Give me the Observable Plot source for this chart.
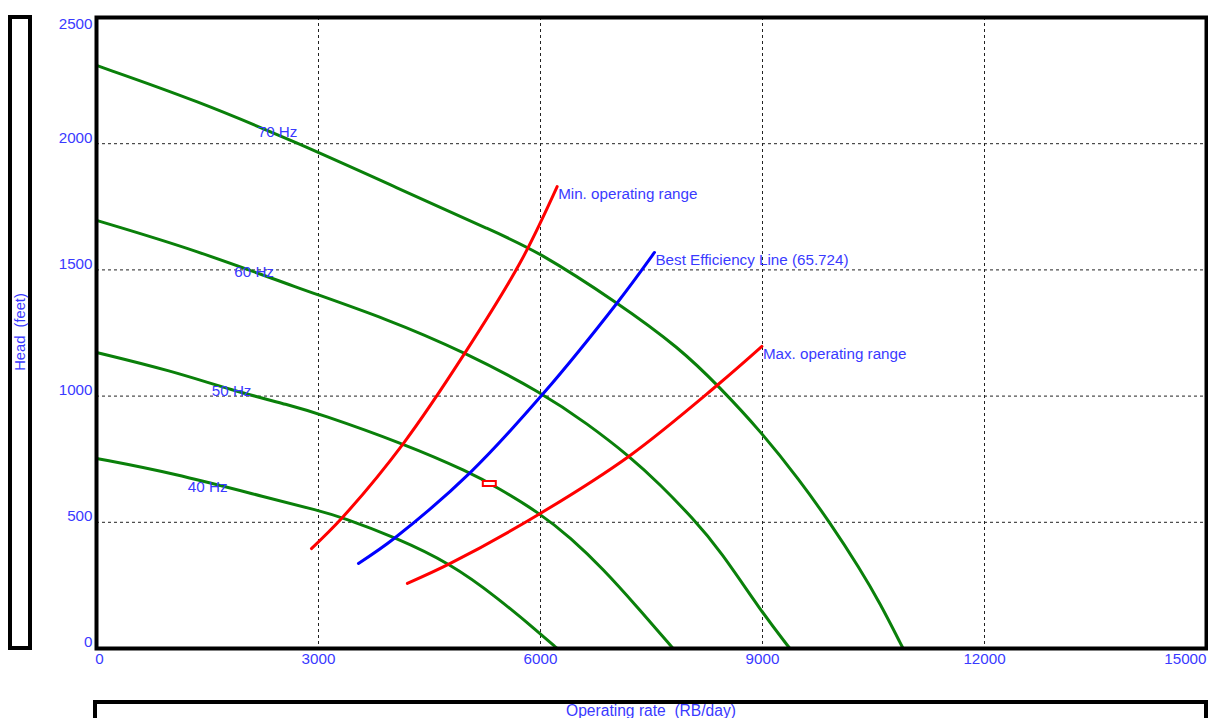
<!DOCTYPE html>
<html>
<head>
<meta charset="utf-8">
<script src="https://cdn.jsdelivr.net/npm/d3@7"></script>
<script src="https://cdn.jsdelivr.net/npm/@observablehq/plot@0.6"></script>
<style>
  html, body { margin: 0; padding: 0; background: #fff; overflow: hidden; }
  #wrap { position: relative; width: 1208px; height: 718px; font-family: "Liberation Sans", Arial, sans-serif; }
  #chart svg { display: block; }
  .box { position: absolute; border: 4px solid #000; box-sizing: border-box; background: transparent; }
  .lbl { position: absolute; color: #3a3aff; font-size: 14.7px; white-space: pre; line-height: 16px; }
</style>
</head>
<body>
<div id="wrap">
  <div id="chart"></div>
  <div class="box" style="left:8px; top:15px; width:24px; height:635px;"></div>
  <div class="lbl" style="left:20px; top:332px; transform: translate(-50%,-50%) rotate(-90deg);">Head  (feet)</div>
  <div class="box" style="left:93px; top:700px; width:1115px; height:40px;"></div>
  <div class="lbl" style="left:651px; top:703px; font-size:15.6px; transform: translateX(-50%);">Operating rate  (RB/day)</div>
</div>
<script>
// Frequency curves: [rate (RB/day), head (feet)]
const hz70 = [[0,2310],[1354,2171],[2703,2005],[4053,1826],[5402,1648],[5942,1577],[7040,1371],[7886,1189],[8425,1034],[8965,864],[9505,666],[9910,499],[10314,317],[10584,182],[10900,0]];
const hz60 = [[0,1696],[1354,1577],[2703,1430],[3918,1307],[4984,1173],[6037,1010],[6631,891],[7211,760],[7616,650],[8061,515],[8425,390],[8992,143],[9370,0]];
const hz50 = [[0,1173],[1005,1101],[1842,1022],[2621,963],[2999,931],[4146,812],[5050,697],[5415,638],[5996,535],[6401,440],[6847,315],[7306,165],[7792,0]];
const hz40 = [[0,753],[1005,697],[2353,594],[2999,547],[3323,519],[4039,440],[4781,337],[5415,202],[5996,59],[6225,0]];
const minRange = [[2905,396],[3323,519],[4146,812],[4984,1173],[5726,1529],[6225,1830]];
const bestEff = [[3540,337],[4039,440],[5050,697],[6037,1010],[7040,1371],[7540,1569]];
const maxRange = [[4201,258],[4781,337],[5996,535],[7211,765],[8384,1042],[8992,1197]];
const operatingPoint = [[5308,654]];

const hzLabels = [
  {text: "70 Hz", x: 2447, y: 2046},
  {text: "60 Hz", x: 2130, y: 1492},
  {text: "50 Hz", x: 1826, y: 1020},
  {text: "40 Hz", x: 1502, y: 638}
];
const lineLabels = ["Min. operating range", "Best Efficiency Line (65.724)", "Max. operating range"];

const xTicks = [0, 3000, 6000, 9000, 12000, 15000];
const yTicks = [0, 500, 1000, 1500, 2000, 2500];

const textBlue = "#3a3aff";
const green = "#0a800a";
const fs = 15.2;

const hzCurves = [hz70, hz60, hz50, hz40];
const rangeLines = [
  {pts: minRange, color: "#ff0000", label: lineLabels[0]},
  {pts: bestEff, color: "#0000ff", label: lineLabels[1]},
  {pts: maxRange, color: "#ff0000", label: lineLabels[2]}
];

const rectSymbol = { draw(ctx) { ctx.rect(-6.5, -2.5, 13, 5); } };
const fmt = d => String(d);

const marks = [
  Plot.gridX(xTicks.slice(1, 5), {stroke: "#222", strokeOpacity: 1, strokeWidth: 1, strokeDasharray: "3,3"}),
  Plot.gridY(yTicks.slice(1, 5), {stroke: "#222", strokeOpacity: 1, strokeWidth: 1, strokeDasharray: "3,3"}),
  ...hzCurves.map(c => Plot.line(c, {x: d => d[0], y: d => d[1], stroke: green, strokeWidth: 3, curve: "basis"})),
  Plot.text(hzLabels, {x: "x", y: "y", text: "text", fill: textBlue, fontSize: fs, textAnchor: "middle"}),
  ...rangeLines.map(r => Plot.line(r.pts, {x: d => d[0], y: d => d[1], stroke: r.color, strokeWidth: 3, curve: "catmull-rom"})),
  ...rangeLines.map(r => Plot.text([r.pts[r.pts.length - 1]], {x: d => d[0], y: d => d[1], text: () => r.label, fill: textBlue, fontSize: fs, textAnchor: "start", dx: 1, dy: 8})),
  Plot.dot(operatingPoint, {x: d => d[0], y: d => d[1], symbol: rectSymbol, stroke: "#ff0000", strokeWidth: 2, fill: "#fff", r: 4}),
  Plot.frame({stroke: "#000", strokeWidth: 4}),
  Plot.axisX([0], {tickSize: 0, tickPadding: 5, fill: textBlue, fontSize: fs, dx: 3, label: null, tickFormat: fmt}),
  Plot.axisX(xTicks.slice(1, 5), {tickSize: 0, tickPadding: 5, fill: textBlue, fontSize: fs, label: null, tickFormat: fmt}),
  Plot.axisX([15000], {tickSize: 0, tickPadding: 5, fill: textBlue, fontSize: fs, textAnchor: "end", label: null, tickFormat: fmt}),
  Plot.axisY(yTicks.slice(0, 5), {tickSize: 0, tickPadding: 4, fill: textBlue, fontSize: fs, dy: -6, label: null, tickFormat: fmt}),
  Plot.axisY([2500], {tickSize: 0, tickPadding: 4, fill: textBlue, fontSize: fs, dy: 7, label: null, tickFormat: fmt})
];

const chart = Plot.plot({
  width: 1208,
  height: 718,
  marginLeft: 96,
  marginRight: 2,
  marginTop: 17,
  marginBottom: 70,
  style: {fontFamily: "'Liberation Sans', Arial, sans-serif", background: "transparent", overflow: "visible"},
  x: {domain: [0, 15000]},
  y: {domain: [0, 2500]},
  marks
});
document.getElementById("chart").appendChild(chart);
</script>
</body>
</html>
